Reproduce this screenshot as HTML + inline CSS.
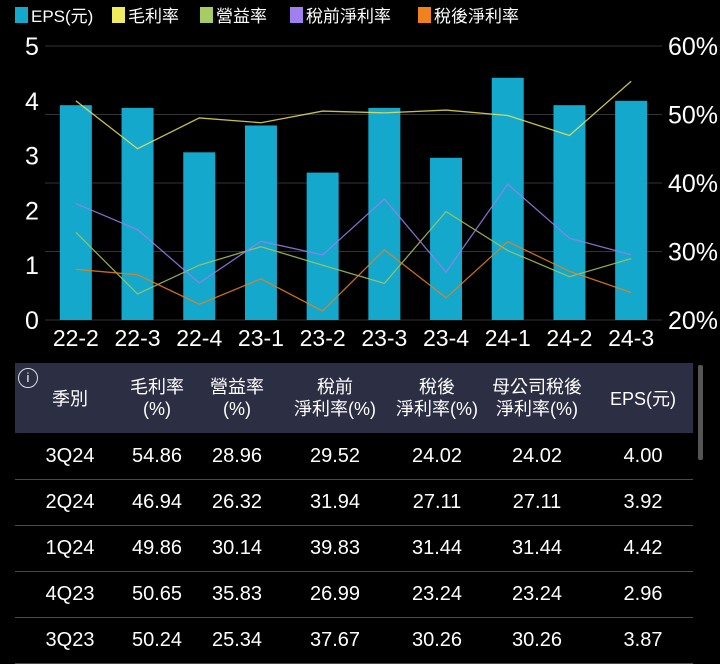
<!DOCTYPE html>
<html><head><meta charset="utf-8"><style>
body{margin:0;background:#000;width:720px;height:654px;overflow:hidden;font-family:"Liberation Sans","Noto Sans CJK TC",sans-serif;color:#fff}
svg text{font-family:"Liberation Sans","Noto Sans CJK TC",sans-serif}
.tbl{position:absolute;left:15px;top:363px;width:678px}
.hdr{position:absolute;left:0;top:0;width:678px;height:70px;background:#2c2e44}
.c{position:absolute;text-align:center;transform:translateX(-50%);white-space:nowrap;font-size:18px;line-height:22px}
.row{position:absolute;left:0;width:678px;height:46px;border-bottom:1px solid #4a4a4a}
</style></head><body>
<svg id="chart" width="720" height="350" style="position:absolute;left:0;top:0"></svg>
<div class="tbl">
 <div class="hdr">
  <div style="position:absolute;left:3px;top:5px;width:18px;height:18px;border:1.5px solid #ddd;border-radius:50%;font-size:13px;text-align:center;line-height:18px">i</div>
  <div class="c" style="left:55px;top:25px">季別</div>
  <div class="c" style="left:142px;top:13px">毛利率<br>(%)</div>
  <div class="c" style="left:222px;top:13px">營益率<br>(%)</div>
  <div class="c" style="left:320px;top:13px">稅前<br>淨利率(%)</div>
  <div class="c" style="left:422px;top:13px">稅後<br>淨利率(%)</div>
  <div class="c" style="left:522px;top:13px">母公司稅後<br>淨利率(%)</div>
  <div class="c" style="left:628px;top:25px">EPS(元)</div>
 </div>
 <div id="rows"></div>
</div>
<div style="position:absolute;left:698px;top:365px;width:5px;height:95px;background:#555;border-radius:2px"></div>
<script>
const categories=["22-2","22-3","22-4","23-1","23-2","23-3","23-4","24-1","24-2","24-3"];
const eps=[3.92,3.87,3.06,3.55,2.69,3.87,2.96,4.42,3.92,4.00];
const gross=[52.0,45.0,49.5,48.8,50.5,50.24,50.65,49.86,46.94,54.86];
const operating=[32.8,23.8,28.0,30.7,28.0,25.34,35.83,30.14,26.32,28.96];
const pretax=[37.0,33.2,25.4,31.5,29.5,37.67,26.99,39.83,31.94,29.52];
const aftertax=[27.4,26.6,22.3,26.0,21.3,30.26,23.24,31.44,27.11,24.02];
const leftTicks=[0,1,2,3,4,5];
const rightTicks=[20,30,40,50,60];
const tableRows=[["3Q24","54.86","28.96","29.52","24.02","24.02","4.00"],["2Q24","46.94","26.32","31.94","27.11","27.11","3.92"],["1Q24","49.86","30.14","39.83","31.44","31.44","4.42"],["4Q23","50.65","35.83","26.99","23.24","23.24","2.96"],["3Q23","50.24","25.34","37.67","30.26","30.26","3.87"]];
const NS="http://www.w3.org/2000/svg";
const svg=document.getElementById('chart');
const y0=320,y1=46,x0=45,x1=662;
const yL=v=>y0-(v/5)*(y0-y1);
const yR=v=>y0-((v-20)/40)*(y0-y1);
const step=(x1-x0)/categories.length;
const xC=i=>x0+step*(i+0.5);
function mk(t,a,txt){const e=document.createElementNS(NS,t);for(const k in a)e.setAttribute(k,a[k]);if(txt!=null)e.textContent=txt;svg.appendChild(e);return e;}
rightTicks.forEach(v=>{
 const l=mk('line',{x1:x0,x2:x1,y1:yR(v),y2:yR(v),stroke:'#333','stroke-width':1});
 
 
 const t=mk('text',{x:668,y:yR(v)+9,'font-size':25,fill:'#fff'},v+'%');
 
 
});
leftTicks.forEach(v=>{
 const t=mk('text',{x:32,y:yL(v)+9,'font-size':25,fill:'#fff','text-anchor':'middle'},String(v));
 
 
});
categories.forEach((c,i)=>{
 const b=mk('rect',{x:xC(i)-16,y:yL(eps[i]),width:32,height:y0-yL(eps[i]),fill:'#14a8cc'});
 
 
 const t=mk('text',{x:xC(i),y:346,'font-size':23,fill:'#fff','text-anchor':'middle'},c);
 
 
});
function line(arr,color,name){
 const p=mk('polyline',{points:arr.map((v,i)=>xC(i)+','+yR(v)).join(' '),fill:'none',stroke:color,'stroke-width':1.3,opacity:0.85});
 
 
}
line(gross,'#e8e05a','gross-margin-line');
line(operating,'#a6c65a','operating-margin-line');
line(pretax,'#9b7fe8','pretax-margin-line');
line(aftertax,'#e8801e','aftertax-margin-line');
const legend=[["EPS(元)","#14a8cc"],["毛利率","#f0ec60"],["營益率","#a8cc64"],["稅前淨利率","#a080f0"],["稅後淨利率","#f0821e"]];
let lx=15;const lw=[97,88,90,128,120];
legend.forEach((l,i)=>{
 const r=mk('rect',{x:lx,y:7,width:13,height:16,fill:l[1]});
 
 
 const t=mk('text',{x:lx+16,y:22,'font-size':17,fill:'#fff'},l[0]);
 
 
 lx+=lw[i];
});
const cols=[55,142,222,320,422,522,628];
const rows=document.getElementById('rows');
tableRows.forEach((r,ri)=>{
 const row=document.createElement('div');
 row.className='row';row.style.top=(70+ri*46)+'px';
 
 
 r.forEach((v,ci)=>{
  const d=document.createElement('div');d.className='c';d.style.left=cols[ci]+'px';d.style.top='12px';d.style.fontSize='20px';d.textContent=v;
  
  
  row.appendChild(d);
 });
 rows.appendChild(row);
});
</script>
</body></html>
